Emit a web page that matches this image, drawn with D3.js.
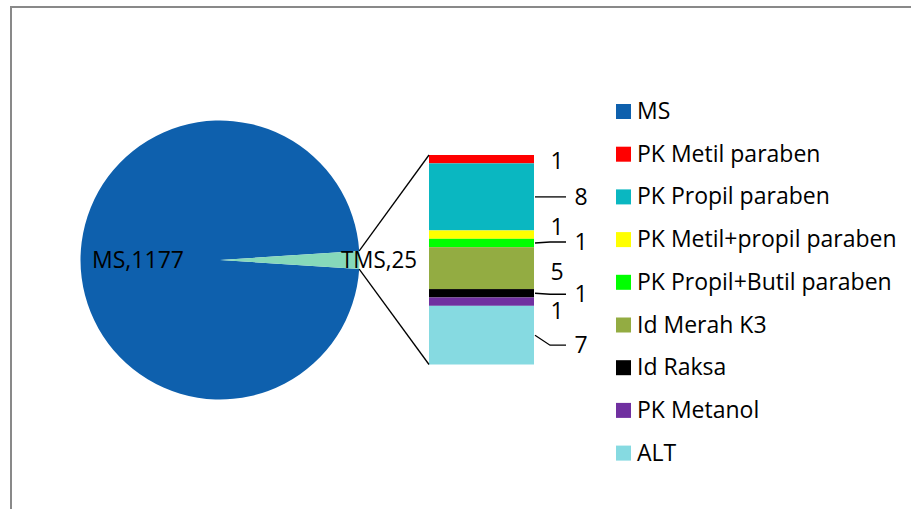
<!DOCTYPE html>
<html>
<head>
<meta charset="utf-8">
<script src="https://cdn.jsdelivr.net/npm/d3@7"></script>
<style>
  html, body { margin: 0; padding: 0; background: #fff; }
  svg { display: block; font-family: "Open Sans", Lato, sans-serif; }
</style>
</head>
<body>
<svg id="chart" width="911" height="509"></svg>
<script>
// ---- data ----
const pieCategories = ["MS", "TMS"];
const pieValues = [1177, 25];
const pieColors = ["#0E60AD", "#86D9BA"];

const barCategories = ["PK Metil paraben", "PK Propil paraben", "PK Metil+propil paraben",
  "PK Propil+Butil paraben", "Id Merah K3", "Id Raksa", "PK Metanol", "ALT"];
const barValues = [1, 8, 1, 1, 5, 1, 1, 7];
const barColors = ["#FF0000", "#0AB7C1", "#FFFF00", "#00FF00", "#93AC42", "#000000", "#7030A0", "#86DAE1"];

const legendCategories = ["MS"].concat(barCategories);
const legendColors = [pieColors[0]].concat(barColors);

// label layout (placement of the bar's data labels): column 0 = near, 1 = far (with leader)
const labelCol = [0, 1, 0, 1, 0, 1, 0, 1];
const labelShift = [2, 0, -8, -1, 4, 1, 9, 10];

// ---- drawing ----
const svg = d3.select("#chart");
const FONT = 23;

// outer border
svg.append("rect").attr("x", 11).attr("y", 7).attr("width", 920).attr("height", 520)
  .attr("fill", "none").attr("stroke", "#898989").attr("stroke-width", 2);

const cx = 220, cy = 260, R = 139.5;
const total = d3.sum(pieValues);
const tmsAngle = pieValues[1] / total * 2 * Math.PI;

// pie: TMS slice centered at angle pointing right (3 o'clock)
const pie = d3.pie().sort(null).value(d => d)
  .startAngle(Math.PI / 2 + tmsAngle / 2)
  .endAngle(Math.PI / 2 + tmsAngle / 2 + 2 * Math.PI);
const arcs = pie(pieValues);
const arc = d3.arc().innerRadius(0).outerRadius(R);
const g = svg.append("g").attr("transform", `translate(${cx},${cy})`);
g.selectAll("path").data(arcs).join("path")
  .attr("d", arc).attr("fill", (d, i) => pieColors[i]);

// bar
const barX0 = 429, barX1 = 534, barTop = 155, barBottom = 364.5;
const y = d3.scaleLinear().domain([0, d3.sum(barValues)]).range([barTop, barBottom]);
const cum = [];
barValues.reduce((a, v, i) => { cum[i] = a; return a + v; }, 0);
svg.selectAll("rect.seg").data(barValues).join("rect").attr("class", "seg")
  .attr("x", barX0).attr("width", barX1 - barX0)
  .attr("y", (d, i) => y(cum[i])).attr("height", d => y(d) - y(0))
  .attr("fill", (d, i) => barColors[i]);

// connector lines from the TMS slice edges to the bar
const a1 = -tmsAngle / 2, a2 = tmsAngle / 2;
const p1 = [cx + R * Math.cos(a1), cy + R * Math.sin(a1)];
const p2 = [cx + R * Math.cos(a2), cy + R * Math.sin(a2)];
svg.append("line").attr("x1", p1[0]).attr("y1", p1[1]).attr("x2", barX0).attr("y2", barTop)
  .attr("stroke", "#000").attr("stroke-width", 1.3);
svg.append("line").attr("x1", p2[0]).attr("y1", p2[1]).attr("x2", barX0).attr("y2", barBottom)
  .attr("stroke", "#000").attr("stroke-width", 1.3);

// pie labels
const angMid = d => (d.startAngle + d.endAngle) / 2;
const pieLabelR = [82, 159];
arcs.forEach((d, i) => {
  const a = angMid(d) - Math.PI / 2;
  svg.append("text")
    .attr("x", cx + pieLabelR[i] * Math.cos(a))
    .attr("y", cy + pieLabelR[i] * Math.sin(a))
    .attr("dy", "0.35em").attr("text-anchor", "middle")
    .attr("font-size", FONT).attr("fill", "#000")
    .attr("textLength", i === 0 ? 92 : 76).attr("lengthAdjust", "spacingAndGlyphs")
    .text(pieCategories[i] + "," + pieValues[i]);
});

// bar data labels
const nearX = 557, farX = 581;
barValues.forEach((v, i) => {
  const mid = y(cum[i] + v / 2);
  const ly = mid + labelShift[i];
  const lx = labelCol[i] ? farX : nearX;
  if (labelCol[i]) {
    const pts = Math.abs(ly - mid) > 0.5
      ? [[barX1 + 1, mid], [550, ly], [566, ly]]
      : [[barX1 + 1, mid], [566, ly]];
    svg.append("path").attr("d", d3.line()(pts))
      .attr("fill", "none").attr("stroke", "#000").attr("stroke-width", 1.3);
  }
  svg.append("text").attr("x", lx).attr("y", ly).attr("dy", "0.35em")
    .attr("text-anchor", "middle").attr("font-size", FONT).attr("fill", "#000")
    .text(v);
});

// legend
const legY0 = 119, legStep = 42.7;
const leg = svg.append("g");
legendCategories.forEach((c, i) => {
  const by = legY0 + i * legStep;
  leg.append("rect").attr("x", 616).attr("y", by - 15).attr("width", 15).attr("height", 15)
    .attr("fill", legendColors[i]);
  leg.append("text").attr("x", 637).attr("y", by).attr("font-size", FONT).attr("fill", "#000")
    .text(c);
});
</script>
</body>
</html>
